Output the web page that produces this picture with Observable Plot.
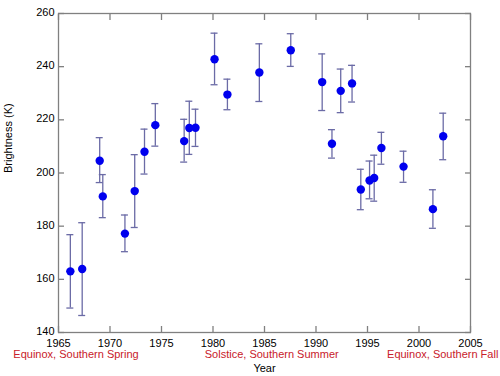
<!DOCTYPE html>
<html>
<head>
<meta charset="utf-8">
<script src="https://cdn.jsdelivr.net/npm/d3@7"></script>
<script src="https://cdn.jsdelivr.net/npm/@observablehq/plot@0.6"></script>
<style>
  html, body { margin: 0; padding: 0; background: #fff; }
  svg { font-family: "Liberation Sans", Arial, sans-serif; }
</style>
</head>
<body>
<div id="chart"></div>
<script>
const years = [1966.15, 1967.3, 1969.0, 1969.3, 1971.45, 1972.4, 1973.35, 1974.4, 1977.2, 1977.7, 1978.3, 1980.15, 1981.4, 1984.5, 1987.55, 1990.6, 1991.55, 1992.4, 1993.5, 1994.35, 1995.2, 1995.65, 1996.35, 1998.5, 2001.35, 2002.35];
const brightness = [163, 163.9, 204.6, 191.2, 177.2, 193.2, 208, 218, 212, 216.9, 217, 242.8, 229.5, 237.8, 246.2, 234.2, 211, 230.9, 233.7, 193.8, 197.2, 198.1, 209.4, 202.4, 186.4, 213.8];
const errLow = [149.2, 146.4, 196.4, 183.2, 170.4, 179.5, 199.6, 210.1, 204.1, 207, 210, 233.2, 223.8, 226.9, 240.1, 223.5, 205.6, 222.7, 226.7, 186.2, 190.3, 189.4, 203.3, 196.5, 179.2, 205];
const errHigh = [176.8, 181.3, 213.3, 199.4, 184.2, 206.9, 216.5, 226.1, 220.2, 227, 224, 252.6, 235.3, 248.6, 252.4, 244.8, 216.3, 239.1, 240.5, 201.4, 204.5, 206.7, 215.3, 208.2, 193.7, 222.5];
const xTicks = [1965, 1970, 1975, 1980, 1985, 1990, 1995, 2000, 2005];
const yTicks = [140, 160, 180, 200, 220, 240, 260];
const seasonLabels = ["Equinox, Southern Spring", "Solstice, Southern Summer", "Equinox, Southern Fall"];
const seasonYears = [1966.7, 1985.7, 2002.3];

const data = years.map((y, i) => ({year: y, value: brightness[i], lo: errLow[i], hi: errHigh[i]}));
const seasons = seasonLabels.map((t, i) => ({text: t, year: seasonYears[i], base: 140}));

const axisColor = "#808080";
const errColor = "#6b6ba6";
const fontSize = 11;

const plot = Plot.plot({
  width: 500,
  height: 376,
  marginLeft: 58,
  marginRight: 30,
  marginTop: 13,
  marginBottom: 44,
  style: {fontFamily: "'Liberation Sans', Arial, sans-serif", fontSize: "11px", background: "white"},
  x: {type: "linear", domain: [1965, 2005]},
  y: {type: "linear", domain: [140, 260]},
  marks: [
    Plot.frame({stroke: axisColor, strokeWidth: 1.3}),
    // inward ticks on all four sides
    Plot.axisX(xTicks, {anchor: "bottom", tickSize: -6, stroke: axisColor, strokeWidth: 1.3, text: null, label: null}),
    Plot.axisX(xTicks, {anchor: "top", tickSize: -6, stroke: axisColor, strokeWidth: 1.3, text: null, label: null}),
    Plot.axisY(yTicks, {anchor: "left", tickSize: -6, stroke: axisColor, strokeWidth: 1.3, text: null, label: null}),
    Plot.axisY(yTicks, {anchor: "right", tickSize: -6, stroke: axisColor, strokeWidth: 1.3, text: null, label: null}),
    // tick labels
    Plot.axisX(xTicks, {anchor: "bottom", tickSize: 0, tickPadding: 7, fill: "black", fontSize, label: null, tickFormat: d => String(d), letterSpacing: "1px"}),
    Plot.axisY(yTicks, {anchor: "left", tickSize: 0, tickPadding: 4, dy: -1, fill: "black", fontSize, label: null, tickFormat: d => String(d), letterSpacing: "1px"}),
    // error bars
    Plot.ruleX(data, {x: "year", y1: "lo", y2: "hi", stroke: errColor, strokeWidth: 1.3}),
    Plot.ruleY(data, {y: "lo", x1: "year", x2: "year", insetLeft: -3.5, insetRight: -3.5, stroke: errColor, strokeWidth: 1.3}),
    Plot.ruleY(data, {y: "hi", x1: "year", x2: "year", insetLeft: -3.5, insetRight: -3.5, stroke: errColor, strokeWidth: 1.3}),
    // points
    Plot.dot(data, {x: "year", y: "value", r: 4.2, fill: "#0000ee", stroke: "none"}),
    // season labels
    Plot.text(seasons, {x: "year", y: "base", text: "text", dy: 22, fill: "#c8202a", fontSize, textAnchor: "middle", clip: false}),
    // axis titles
    Plot.text(["Year"], {frameAnchor: "bottom", dy: 39, text: d => d, fill: "black", fontSize}),
    Plot.text(["Brightness (K)"], {frameAnchor: "left", dx: -50, rotate: -90, text: d => d, fill: "black", fontSize})
  ]
});

document.getElementById("chart").appendChild(plot);
</script>
</body>
</html>
